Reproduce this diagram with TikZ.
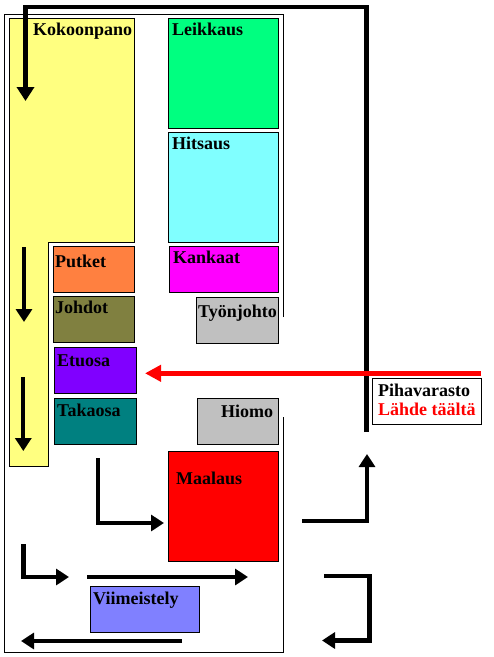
\documentclass[tikz,border=0pt]{standalone}
\usepackage{fontspec}
\setmainfont{Liberation Serif}
\usetikzlibrary{arrows.meta}
\definecolor{cYellow}{HTML}{FFFF80}
\definecolor{cGreen}{HTML}{00FF80}
\definecolor{cCyan}{HTML}{80FFFF}
\definecolor{cMagenta}{HTML}{FF00FF}
\definecolor{cOrange}{HTML}{FF8040}
\definecolor{cOlive}{HTML}{808040}
\definecolor{cPurple}{HTML}{8000FF}
\definecolor{cTeal}{HTML}{008080}
\definecolor{cGray}{HTML}{C0C0C0}
\definecolor{cRed}{HTML}{FF0000}
\definecolor{cBlue}{HTML}{8080FF}
\tikzset{
  room/.style={draw=black, line width=1pt, inner sep=0pt, anchor=north west},
  lbl/.style={anchor=base west, inner sep=0pt, font=\fontsize{18}{20}\selectfont\bfseries},
  flow/.style={line width=4.3pt, line join=miter, -{Triangle[length=13pt,width=16pt]}},
  bigflow/.style={line width=4.5pt, line join=miter, -{Triangle[length=14pt,width=17pt]}},
  redflow/.style={draw=cRed, line width=4.6pt, -{Triangle[length=16pt,width=16pt]}},
  wall/.style={line width=1pt}
}
\newcommand{\room}[6]{% name, x, y, w, h, colour
  \node[room, fill=#6, minimum width=#4pt, minimum height=#5pt] (#1) at (#2,#3) {};}
\begin{document}
\begin{tikzpicture}[x=1pt, y=-1pt]
\useasboundingbox (0,0) rectangle (494,657);
\fill[white] (0,0) rectangle (494,657);
% building outline
\draw[wall] (283,317) -- (283,14.5) -- (4.7,14.5) -- (4.7,652) -- (283,652) -- (283,417);
% Kokoonpano L-shape
\draw[wall, fill=cYellow] (9.5,18) -- (134,18) -- (134,242) -- (48,242) -- (48,466.5) -- (9.5,466.5) -- cycle;
\node[lbl] (tKok) at (33,35) {Kokoonpano};
% rooms
\room{leik}{168}{18}{110}{110}{cGreen}
\room{hits}{168}{132}{110}{110}{cCyan}
\room{kank}{169}{246}{109}{46}{cMagenta}
\room{putk}{53}{246}{81}{46}{cOrange}
\room{johd}{53}{296}{81}{46}{cOlive}
\room{etuo}{53.5}{347}{82}{46}{cPurple}
\room{taka}{53.5}{398}{82}{46}{cTeal}
\room{tyon}{195.5}{297}{82.5}{46}{cGray}
\room{hiom}{196.5}{398}{81.5}{46}{cGray}
\room{maal}{168}{451}{110}{110}{cRed}
\room{viim}{89.5}{586}{109.5}{46}{cBlue}
\node[room, fill=white, minimum width=109pt, minimum height=46pt] (piha) at (372,378) {};
% labels
\node[lbl] (tLeik) at (172,35) {Leikkaus};
\node[lbl] (tHits) at (172,149.5) {Hitsaus};
\node[lbl] (tKank) at (173,263) {Kankaat};
\node[lbl] (tPutk) at (55,267.5) {Putket};
\node[lbl] (tJohd) at (55,313) {Johdot};
\node[lbl] (tEtuo) at (57,366) {Etuosa};
\node[lbl] (tTaka) at (57,416) {Takaosa};
\node[lbl] (tTyon) at (198,317) {Työnjohto};
\node[lbl] (tHiom) at (221,417) {Hiomo};
\node[lbl] (tMaal) at (176,484) {Maalaus};
\node[lbl] (tViim) at (93,604) {Viimeistely};
\node[lbl] (tPiha) at (378,396) {Pihavarasto};
\node[lbl, text=cRed] (tLahd) at (378,415) {Lähde täältä};
% coordinates for connectors
\coordinate (a0) at (366.5,432);
\coordinate (a1) at (366.5,7.2);
\coordinate (a2) at (25.5,7.2);
\coordinate (a3) at (25.5,101);
\coordinate (r0) at (481,373.3);
\coordinate (r1) at (145,373.3);
\coordinate (y1s) at (24,247);
\coordinate (y1e) at (24,322);
\coordinate (y2s) at (23.3,377);
\coordinate (y2e) at (23.3,451);
\coordinate (m0) at (97.7,458);
\coordinate (m1) at (97.7,523);
\coordinate (m2) at (164,523);
\coordinate (b0) at (23.5,544);
\coordinate (b1) at (23.5,577);
\coordinate (b2) at (69,577);
\coordinate (l0) at (87,577);
\coordinate (l1) at (248,577);
\coordinate (k0) at (182,641);
\coordinate (k1) at (21,641);
\coordinate (u0) at (302,521);
\coordinate (u1) at (367,521);
\coordinate (u2) at (367,454);
\coordinate (s0) at (324,576);
\coordinate (s1) at (369.5,576);
\coordinate (s2) at (369.5,640.5);
\coordinate (s3) at (322,640.5);
% connectors
\draw[bigflow] (a0) -- (a1) -- (a2) -- (a3);
\draw[redflow] (r0) -- (r1);
\draw[flow] (y1s) -- (y1e);
\draw[flow] (y2s) -- (y2e);
\draw[flow] (m0) -- (m1) -- (m2);
\draw[flow] (b0) -- (b1) -- (b2);
\draw[flow] (l0) -- (l1);
\draw[flow] (k0) -- (k1);
\draw[flow] (u0) -- (u1) -- (u2);
\draw[flow] (s0) -- (s1) -- (s2) -- (s3);
\end{tikzpicture}
\end{document}
